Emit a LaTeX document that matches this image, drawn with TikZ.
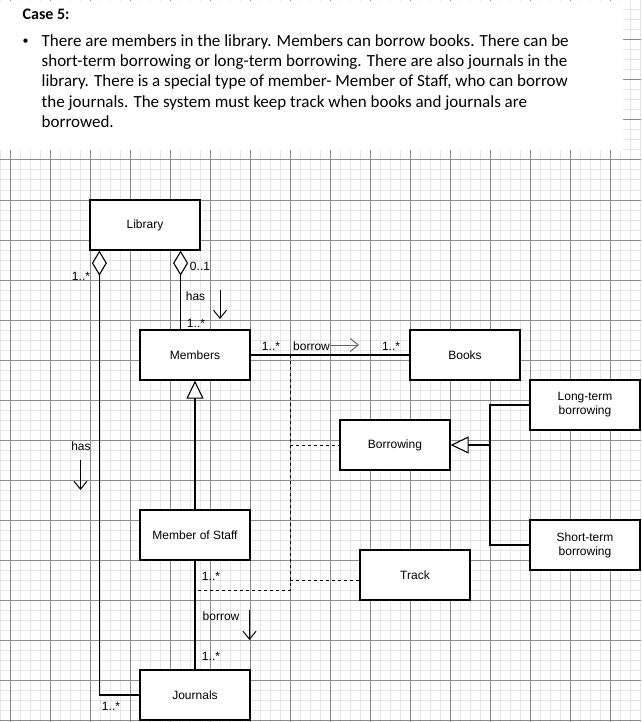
\documentclass[tikz,border=0pt]{standalone}
\usepackage{fontspec}
\setmainfont{Liberation Sans}
\newfontfamily\casefont{Carlito}
\usetikzlibrary{arrows.meta, calc}

\begin{document}
\begin{tikzpicture}[x=1pt, y=-1pt, font=\fontsize{12}{14}\selectfont,
  cls/.style={draw, line width=1.2pt, fill=white, minimum width=110pt, minimum height=50pt, inner sep=2pt, align=center},
  link/.style={line width=1.1pt},
  dep/.style={line width=1pt, dash pattern=on 3pt off 3pt},
  aggr/.style={{Diamond[fill=white, length=25pt, width=15pt]}-},
  gen/.style={-{Triangle[fill=white, length=18pt, width=17pt]}},
  dir/.style={-{Straight Barb[length=8pt, width=13pt]}, line width=1pt},
  mult/.style={inner sep=0pt},
  casetext/.style={anchor=base west, inner sep=0pt, font=\casefont\fontsize{17}{20}\selectfont}]

\useasboundingbox (0,0) rectangle (641,722);

% grid
\foreach \x in {0,10,...,640} \draw[black!10, line width=1pt] (\x,0) -- (\x,722);
\foreach \y in {0,10,...,720} \draw[black!10, line width=1pt] (0,\y) -- (641,\y);
\foreach \x in {10,50,...,610} \draw[black!45, line width=1pt] (\x,0) -- (\x,722);
\foreach \y in {0,40,...,720} \draw[black!45, line width=1pt] (0,\y) -- (641,\y);
\fill[white] (0,1) rectangle (623,150);

% case text
\node[casetext, font=\casefont\bfseries\fontsize{16}{18}\selectfont] (title) at (22.5,20) {Case 5:};
\node[inner sep=0pt, font=\casefont\fontsize{12}{14}\selectfont] (bullet) at (25.5,41.5) {•};
\node[casetext] (l1) at (41.5,46.5) {There are members in the library. Members can borrow books. There can be};
\node[casetext] (l2) at (41.5,66.7) {short-term borrowing or long-term borrowing. There are also journals in the};
\node[casetext] (l3) at (41.5,86.9) {library. There is a special type of member- Member of Staff, who can borrow};
\node[casetext] (l4) at (41.5,107.1) {the journals. The system must keep track when books and journals are};
\node[casetext] (l5) at (41.5,127.3) {borrowed.};

% classes
\node[cls] (lib) at (145,225) {Library};
\node[cls] (mem) at (195,355) {Members};
\node[cls] (books) at (465,355) {Books};
\node[cls] (lt) at (585,405) {Long-term\\borrowing};
\node[cls] (borr) at (395,445) {Borrowing};
\node[cls] (st) at (585,545) {Short-term\\borrowing};
\node[cls] (track) at (415,575) {Track};
\node[cls] (stf) at (195,535) {Member of Staff};
\node[cls] (jour) at (195,695) {Journals};

% library associations
\draw[link, aggr] ([xshift=10pt]lib.south west) |- (jour.west);
\draw[link, aggr] ([xshift=-20pt]lib.south east) -- ([xshift=-20pt]lib.south east |- mem.north);

% borrow lines
\draw[link] (mem.east) -- (books.west);
\draw[link] (stf.south) -- (jour.north);

% generalisations
\draw[link, gen] (stf.north) -- (mem.south);
\coordinate (gj) at (490,445);
\draw[link] (lt.west) -| (gj) |- (st.west);
\draw[link, gen] (gj) -- (borr.east);

% association classes
\coordinate (dtop) at ($(mem.east)!0.25!(books.west)$);
\coordinate (dend) at (195,590);
\draw[dep] (dtop) -- (dtop |- dend) -- (dend);
\draw[dep] (dtop |- borr.west) -- (borr.west);
\draw[dep] (dtop |- 0,580) -- ([yshift=-5pt]track.west);

% multiplicities and names
\node[mult] (m1) at (81,276) {1..*};
\node[mult] (m2) at (200,266) {0..1};
\node[mult] (has1) at (195.5,296) {has};
\node[mult] (m3) at (196,323) {1..*};
\node[mult] (m4) at (271,346) {1..*};
\node[mult] (bor1) at (311.5,346) {borrow};
\node[mult] (m5) at (391,346) {1..*};
\node[mult] (has2) at (81,446) {has};
\node[mult] (m6) at (211,576) {1..*};
\node[mult] (bor2) at (221,616) {borrow};
\node[mult] (m7) at (211,656) {1..*};
\node[mult] (m8) at (111,706) {1..*};

% reading direction
\coordinate (h1a) at (220,290); \coordinate (h1b) at (220,319);
\coordinate (h2a) at (80.5,460); \coordinate (h2b) at (80.5,490);
\coordinate (b1a) at (330,345); \coordinate (b1b) at (359,345);
\coordinate (b2a) at (249.5,610); \coordinate (b2b) at (249.5,640);
\draw[dir] (h1a) -- (h1b);
\draw[dir] (h2a) -- (h2b);
\draw[dir, black!60] (b1a) -- (b1b);
\draw[dir] (b2a) -- (b2b);

\end{tikzpicture}
\end{document}
